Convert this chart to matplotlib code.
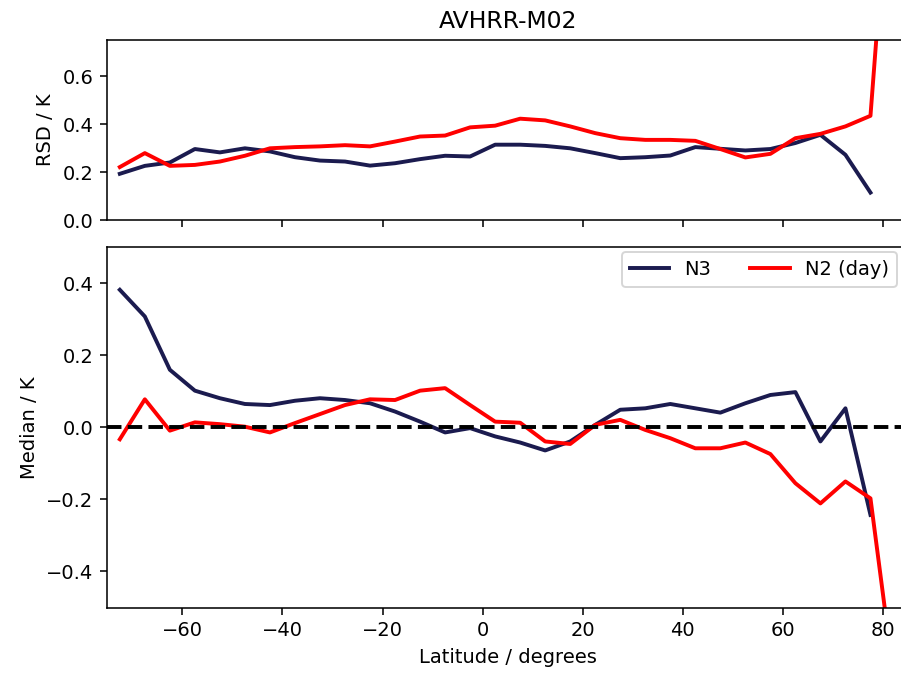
import numpy as np
from matplotlib import pyplot as plt

lat = np.arange(-72.5, 80, 5.0)
lat_red = np.arange(-72.5, 85, 5.0)

rsd_n3 = [0.194, 0.227, 0.241, 0.297, 0.283, 0.300, 0.287, 0.263, 0.249, 0.245,
          0.228, 0.238, 0.255, 0.269, 0.266, 0.315, 0.315, 0.310, 0.300, 0.280,
          0.259, 0.263, 0.270, 0.305, 0.298, 0.291, 0.297, 0.322, 0.356, 0.273,
          0.116]
rsd_n2 = [0.222, 0.280, 0.227, 0.231, 0.245, 0.269, 0.300, 0.305, 0.308, 0.313,
          0.308, 0.328, 0.349, 0.353, 0.387, 0.394, 0.423, 0.416, 0.391, 0.363,
          0.342, 0.335, 0.335, 0.331, 0.297, 0.262, 0.277, 0.342, 0.360, 0.391,
          0.435, 1.8]

med_n3 = [0.382, 0.308, 0.160, 0.102, 0.081, 0.065, 0.062, 0.074, 0.081, 0.076,
          0.067, 0.044, 0.016, -0.014, -0.002, -0.025, -0.042, -0.064, -0.039, 0.007,
          0.049, 0.053, 0.065, 0.053, 0.041, 0.067, 0.090, 0.098, -0.039, 0.053,
          -0.243]
med_n2 = [-0.033, 0.078, -0.009, 0.014, 0.009, 0.002, -0.014, 0.012, 0.037, 0.062,
          0.078, 0.076, 0.102, 0.109, 0.062, 0.016, 0.013, -0.039, -0.046, 0.007,
          0.021, -0.007, -0.030, -0.058, -0.058, -0.042, -0.074, -0.155, -0.211, -0.150,
          -0.197, -0.73]

navy = '#1b1b4f'
W, H = 901, 673

fig = plt.figure(figsize=(6.4, 6.4 * H / W), dpi=W / 6.4)

# axes reach a little past the right edge, like the cropped original
ax1 = fig.add_axes([107.3 / W, 1 - 220.5 / H, (908 - 107.3) / W, 180.5 / H])
ax2 = fig.add_axes([107.3 / W, 1 - 607.5 / H, (908 - 107.3) / W, 360.2 / H], sharex=ax1)

ax1.plot(lat, rsd_n3, color=navy, lw=2)
ax1.plot(lat_red, rsd_n2, color='red', lw=2)
ax1.set_ylim(0, 0.75)
ax1.set_ylabel('RSD / K')
ax1.set_title('AVHRR-M02')
ax1.tick_params(labelbottom=False)

ax2.plot(lat, med_n3, color=navy, lw=2, label='N3')
ax2.plot(lat_red, med_n2, color='red', lw=2, label='N2 (day)')
ax2.axhline(0, color='k', ls='--', lw=2)
ax2.set_ylim(-0.5, 0.5)
ax2.set_xlim(-75, 85)
ax2.set_ylabel('Median / K')
ax2.set_xlabel('Latitude / degrees')
ax2.legend(ncol=2, loc='upper right', bbox_to_anchor=(897 / W, 1 - 252 / H),
           bbox_transform=fig.transFigure, borderaxespad=0)

fig.savefig('out.png', dpi=W / 6.4)
